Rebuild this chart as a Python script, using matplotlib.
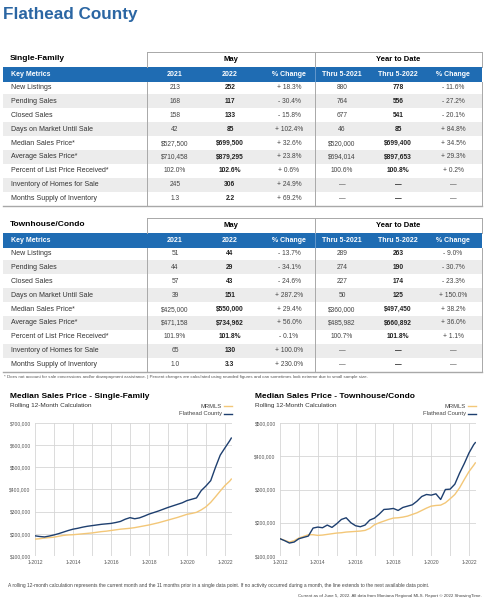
import matplotlib
matplotlib.use("Agg")
import matplotlib.pyplot as plt
from matplotlib.patches import Rectangle
from matplotlib.lines import Line2D

plt.rcParams['font.family'] = ['Liberation Sans', 'DejaVu Sans']
NARROW = ['Liberation Sans Narrow', 'Liberation Sans', 'DejaVu Sans']

#%% data
metrics = ["New Listings", "Pending Sales", "Closed Sales", "Days on Market Until Sale",
           "Median Sales Price*", "Average Sales Price*", "Percent of List Price Received*",
           "Inventory of Homes for Sale", "Months Supply of Inventory"]
col_heads = ["2021", "2022", "% Change", "Thru 5-2021", "Thru 5-2022", "% Change"]

sf_may_2021 = ["213", "168", "158", "42", "$527,500", "$710,458", "102.0%", "245", "1.3"]
sf_may_2022 = ["252", "117", "133", "85", "$699,500", "$879,295", "102.6%", "306", "2.2"]
sf_may_chg = ["+ 18.3%", "- 30.4%", "- 15.8%", "+ 102.4%", "+ 32.6%", "+ 23.8%", "+ 0.6%", "+ 24.9%", "+ 69.2%"]
sf_ytd_2021 = ["880", "764", "677", "46", "$520,000", "$694,014", "100.6%", "—", "—"]
sf_ytd_2022 = ["778", "556", "541", "85", "$699,400", "$897,653", "100.8%", "—", "—"]
sf_ytd_chg = ["- 11.6%", "- 27.2%", "- 20.1%", "+ 84.8%", "+ 34.5%", "+ 29.3%", "+ 0.2%", "—", "—"]

tc_may_2021 = ["51", "44", "57", "39", "$425,000", "$471,158", "101.9%", "65", "1.0"]
tc_may_2022 = ["44", "29", "43", "151", "$550,000", "$734,962", "101.8%", "130", "3.3"]
tc_may_chg = ["- 13.7%", "- 34.1%", "- 24.6%", "+ 287.2%", "+ 29.4%", "+ 56.0%", "- 0.1%", "+ 100.0%", "+ 230.0%"]
tc_ytd_2021 = ["289", "274", "227", "50", "$360,000", "$485,982", "100.7%", "—", "—"]
tc_ytd_2022 = ["263", "190", "174", "125", "$497,450", "$660,892", "101.8%", "—", "—"]
tc_ytd_chg = ["- 9.0%", "- 30.7%", "- 23.3%", "+ 150.0%", "+ 38.2%", "+ 36.0%", "+ 1.1%", "—", "—"]

months = ["2012-01", "2012-04", "2012-07", "2012-10", "2013-01", "2013-04", "2013-07", "2013-10",
          "2014-01", "2014-04", "2014-07", "2014-10", "2015-01", "2015-04", "2015-07", "2015-10",
          "2016-01", "2016-04", "2016-07", "2016-10", "2017-01", "2017-04", "2017-07", "2017-10",
          "2018-01", "2018-04", "2018-07", "2018-10", "2019-01", "2019-04", "2019-07", "2019-10",
          "2020-01", "2020-04", "2020-07", "2020-10", "2021-01", "2021-04", "2021-07", "2021-10",
          "2022-01", "2022-04", "2022-05"]

# values in $1000
sf_flathead = [191, 188, 186, 190, 195, 201, 208, 215, 221, 225, 230, 234, 237, 240, 243, 245,
               247, 251, 256, 266, 273, 268, 272, 280, 289, 296, 303, 311, 319, 326, 333, 340,
               350, 356, 362, 395, 416, 440, 500, 555, 588, 620, 632]
sf_mrmls = [176, 178, 181, 183, 185, 189, 193, 195, 196, 198, 200, 202, 204, 207, 210, 212,
            215, 218, 221, 223, 225, 228, 232, 236, 240, 245, 250, 256, 262, 268, 274, 281,
            288, 292, 297, 308, 322, 342, 367, 393, 418, 438, 447]
tc_flathead = [152, 146, 139, 142, 152, 156, 160, 184, 187, 185, 193, 186, 197, 210, 215, 200,
               191, 188, 193, 208, 214, 226, 240, 241, 243, 237, 246, 250, 254, 265, 279, 285,
               283, 287, 270, 300, 301, 316, 349, 378, 410, 435, 441]
tc_mrmls = [152, 147, 142, 146, 154, 159, 164, 164, 162, 163, 165, 167, 169, 170, 172, 173,
            174, 175, 177, 183, 194, 200, 205, 210, 214, 215, 217, 220, 225, 230, 237, 244,
            250, 252, 253, 260, 272, 285, 305, 330, 354, 373, 380]

BLUE = "#1f6cb3"
NAVY = "#1e3f6f"
TAN = "#f3c778"
GRID = "#d6d6d6"
EDGE = "#a8a8a8"

W, H = 491, 600
fig = plt.figure(figsize=(4.91, 6.0), dpi=100)


def fx(x):
    return x / W


def fy(y):
    return 1 - y / H


def hline(x0, x1, y, **kw):
    fig.add_artist(Line2D([fx(x0), fx(x1)], [fy(y), fy(y)], transform=fig.transFigure, **kw))


def vline(x, y0, y1, **kw):
    fig.add_artist(Line2D([fx(x), fx(x)], [fy(y0), fy(y1)], transform=fig.transFigure, **kw))


def rect(x0, y0, x1, y1, color):
    fig.add_artist(Rectangle((fx(x0), fy(y1)), fx(x1) - fx(x0), (y1 - y0) / H,
                             transform=fig.transFigure, facecolor=color, edgecolor='none', zorder=0))


fig.text(fx(3), fy(15), "Flathead County", fontsize=12.3, weight='bold', color="#2b66a3",
         family=NARROW, va='center', ha='left')

col_x = [175, 230, 289, 342, 398, 453]


def table(top, label, cols):
    step = 13.9
    n = len(metrics)
    bottom = top + 35.5 + step * (n - 0.5)
    fig.text(fx(10), fy(top + 7), label, fontsize=6, weight='bold', family=NARROW, va='center')
    fig.text(fx(231), fy(top + 7.5), "May", fontsize=5.5, weight='bold', family=NARROW,
             va='center', ha='center')
    fig.text(fx(398), fy(top + 7.5), "Year to Date", fontsize=5.5, weight='bold', family=NARROW,
             va='center', ha='center')
    hline(147, 482, top, color=EDGE, lw=0.7)
    for x in [147, 315, 482]:
        vline(x, top, top + 15, color=EDGE, lw=0.7, zorder=3)
        vline(x, top + 29.5, bottom, color=EDGE, lw=0.7, zorder=3)
    rect(3, top + 15, 482, top + 29.5, BLUE)
    vline(315, top + 15, top + 29.5, color="#7fa9d6", lw=0.5, zorder=3)
    fig.text(fx(11), fy(top + 22), "Key Metrics", fontsize=5, weight='bold', color='white',
             va='center')
    for x, h in zip(col_x, col_heads):
        fig.text(fx(x), fy(top + 22), h, fontsize=5, weight='bold', color='white',
                 va='center', ha='center', family=NARROW)
    for i, m in enumerate(metrics):
        yc = top + 35.5 + step * i
        if i % 2 == 1:
            rect(3, yc - step / 2, 482, yc + step / 2, "#ececec")
        fig.text(fx(11), fy(yc), m, fontsize=5, color="#333333", va='center')
        for j, (x, c) in enumerate(zip(col_x, cols)):
            bold = j in (1, 4)
            fig.text(fx(x), fy(yc), c[i], fontsize=4.8, color="#222222" if bold else "#444444",
                     weight='bold' if bold else 'normal', va='center', ha='center')
    hline(3, 482, bottom, color=EDGE, lw=1.0)


table(52, "Single-Family", [sf_may_2021, sf_may_2022, sf_may_chg, sf_ytd_2021, sf_ytd_2022, sf_ytd_chg])
table(218, "Townhouse/Condo", [tc_may_2021, tc_may_2022, tc_may_chg, tc_ytd_2021, tc_ytd_2022, tc_ytd_chg])

fig.text(fx(4), fy(377), "* Does not account for sale concessions and/or downpayment assistance. | "
         "Percent changes are calculated using rounded figures and can sometimes look extreme due to small sample size.",
         fontsize=3.2, color="#555555", va='center')

xs = [int(m[:4]) + (int(m[5:]) - 1) / 12 for m in months]


def chart(left, right, title, flathead, mrmls, ymax):
    ax = fig.add_axes([fx(left), fy(556), fx(right) - fx(left), (556 - 423) / H])
    ax.plot(xs, mrmls, color=TAN, lw=1.0, zorder=3)
    ax.plot(xs, flathead, color=NAVY, lw=1.0, zorder=4)
    ax.set_xlim(2012, 2022.37)
    ax.set_ylim(100, ymax)
    ax.set_xticks(range(2012, 2023, 2))
    ax.set_xticklabels(["1-%d" % y for y in range(2012, 2023, 2)])
    ax.set_xticks(range(2012, 2023), minor=True)
    ax.set_yticks(range(100, ymax + 1, 100))
    ax.set_yticklabels(["${:,}".format(v * 1000) for v in range(100, ymax + 1, 100)])
    ax.grid(True, which='both', axis='x', color=GRID, lw=0.6)
    ax.grid(True, which='major', axis='y', color=GRID, lw=0.6)
    ax.set_axisbelow(True)
    for s in ax.spines.values():
        s.set_visible(False)
    ax.tick_params(which='both', length=0, labelsize=3.6, colors="#555555", pad=3)
    fig.text(fx(left - 25), fy(396), title, fontsize=6, weight='bold', family=NARROW, va='center')
    fig.text(fx(left - 25), fy(405), "Rolling 12-Month Calculation", fontsize=4.6, color="#333333",
             va='center')
    for yy, name, col in [(406, "MRMLS", TAN), (414, "Flathead County", NAVY)]:
        fig.text(fx(right - 10), fy(yy), name, fontsize=4.2, color="#444444", va='center', ha='right')
        hline(right - 8, right, yy, color=col, lw=1.0)


chart(35, 232, "Median Sales Price - Single-Family", sf_flathead, sf_mrmls, 700)
chart(280, 476, "Median Sales Price - Townhouse/Condo", tc_flathead, tc_mrmls, 500)

fig.text(fx(8), fy(585), "A rolling 12-month calculation represents the current month and the 11 months prior in a "
         "single data point. If no activity occurred during a month, the line extends to the next available data point.",
         fontsize=3.5, color="#444444", va='center')
fig.text(fx(482), fy(596), "Current as of June 5, 2022. All data from Montana Regional MLS. Report © 2022 ShowingTime.",
         fontsize=3.2, color="#444444", va='center', ha='right')

fig.savefig("out.png", dpi=100)
